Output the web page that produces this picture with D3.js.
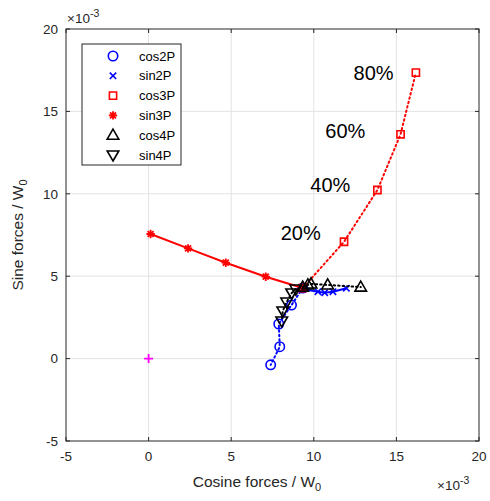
<!DOCTYPE html>
<html>
<head>
<meta charset="utf-8">
<script src="https://cdn.jsdelivr.net/npm/d3@7/dist/d3.min.js"></script>
<style>
  html, body { margin: 0; padding: 0; background: #ffffff; }
  svg { display: block; font-family: "Liberation Sans", Arial, Helvetica, sans-serif; }
</style>
</head>
<body>
<svg id="chart" width="490" height="501"></svg>
<script>
// Force components, in units of 1e-3 W0 (cosine part, sine part)
const cos2P_x = [9.33, 8.65, 7.88, 7.94, 7.39];
const cos2P_y = [4.28, 3.25, 2.10, 0.72, -0.38];
const sin2P_x = [9.33, 10.25, 10.66, 11.16, 11.97];
const sin2P_y = [4.22, 4.06, 4.00, 4.06, 4.27];
const cos3P_x = [9.33, 11.83, 13.85, 15.25, 16.18];
const cos3P_y = [4.28, 7.09, 10.23, 13.61, 17.35];
const sin3P_x = [0.12, 2.39, 4.67, 7.09, 9.33];
const sin3P_y = [7.56, 6.69, 5.82, 4.97, 4.28];
const cos4P_x = [9.33, 9.64, 9.83, 10.84, 12.84];
const cos4P_y = [4.34, 4.47, 4.53, 4.47, 4.34];
const sin4P_x = [8.91, 8.66, 8.36, 8.12, 8.06];
const sin4P_y = [4.22, 3.98, 3.43, 2.89, 2.28];
const origin = [0, 0];

// Load-level annotations (left edge / middle of text, in the same units)
const loadLabels = ["20%", "40%", "60%", "80%"];
const loadLabelX = [8.0, 9.79, 10.7, 12.41];
const loadLabelY = [7.62, 10.53, 13.83, 17.35];

// Axis ticks
const xTicks = [-5, 0, 5, 10, 15, 20];
const yTicks = [-5, 0, 5, 10, 15, 20];
const seriesNames = ["cos2P", "sin2P", "cos3P", "sin3P", "cos4P", "sin4P"];

const svg = d3.select("#chart");
const L = 66, R = 479, T = 29, B = 441;
const x = d3.scaleLinear().domain([-5, 20]).range([L, R]);
const y = d3.scaleLinear().domain([-5, 20]).range([B, T]);

const axisColor = "#262626";
const gridColor = "#e3e3e3";

// Grid
const grid = svg.append("g");
grid.selectAll("line.gx").data(xTicks.slice(1, -1)).join("line")
  .attr("x1", d => x(d)).attr("x2", d => x(d)).attr("y1", T).attr("y2", B)
  .attr("stroke", gridColor).attr("stroke-width", 1);
grid.selectAll("line.gy").data(yTicks.slice(1, -1)).join("line")
  .attr("y1", d => y(d)).attr("y2", d => y(d)).attr("x1", L).attr("x2", R)
  .attr("stroke", gridColor).attr("stroke-width", 1);

// Series definitions
const blue = "#0000ff", red = "#ff0000", black = "#000000";
const series = [
  { name: seriesNames[0], xs: cos2P_x, ys: cos2P_y, color: blue, dash: "1.5,3", marker: "circle" },
  { name: seriesNames[1], xs: sin2P_x, ys: sin2P_y, color: blue, dash: null, marker: "x" },
  { name: seriesNames[2], xs: cos3P_x, ys: cos3P_y, color: red, dash: "1.5,3", marker: "square" },
  { name: seriesNames[3], xs: sin3P_x, ys: sin3P_y, color: red, dash: null, marker: "star" },
  { name: seriesNames[4], xs: cos4P_x, ys: cos4P_y, color: black, dash: "1.5,3", marker: "triUp" },
  { name: seriesNames[5], xs: sin4P_x, ys: sin4P_y, color: black, dash: "1.5,3", marker: "triDown" }
];

function markerPath(type) {
  switch (type) {
    case "circle": return d3.symbol(d3.symbolCircle, Math.PI * 4.7 * 4.7)();
    case "square": return "M-3.6,-3.6H3.6V3.6H-3.6Z";
    case "x": return "M-3.2,-3.2L3.2,3.2M-3.2,3.2L3.2,-3.2";
    case "star": {
      let p = "";
      for (let i = 0; i < 4; i++) {
        const a = i * Math.PI / 4;
        const dx = 4.2 * Math.cos(a), dy = 4.2 * Math.sin(a);
        p += `M${-dx},${-dy}L${dx},${dy}`;
      }
      return p;
    }
    case "triUp": return "M0,-6L5.8,4L-5.8,4Z";
    case "triDown": return "M0,6L5.8,-4L-5.8,-4Z";
  }
}

const lineGen = d3.line().x(d => x(d[0])).y(d => y(d[1]));
const plot = svg.append("g");

series.forEach(s => {
  const pts = s.xs.map((v, i) => [v, s.ys[i]]);
  const g = plot.append("g");
  g.append("path").datum(pts)
    .attr("d", lineGen)
    .attr("fill", "none")
    .attr("stroke", s.color)
    .attr("stroke-width", 2)
    .attr("stroke-dasharray", s.dash)
    .attr("stroke-linecap", s.dash ? "round" : "butt");
  g.selectAll("path.m").data(pts).join("path")
    .attr("class", "m")
    .attr("transform", d => `translate(${x(d[0])},${y(d[1])})`)
    .attr("d", markerPath(s.marker))
    .attr("fill", "none")
    .attr("stroke", s.color)
    .attr("stroke-width", s.marker === "star" ? 1.8 : 1.6);
});

// Origin reference
plot.append("path")
  .attr("transform", `translate(${x(origin[0])},${y(origin[1])})`)
  .attr("d", "M-4.5,0H4.5M0,-4.5V4.5")
  .attr("stroke", "#ff00ff").attr("stroke-width", 1.8).attr("fill", "none");

// Load-level text
svg.selectAll("text.load").data(loadLabels).join("text")
  .attr("x", (d, i) => x(loadLabelX[i]))
  .attr("y", (d, i) => y(loadLabelY[i]))
  .attr("dy", "0.36em")
  .attr("font-size", 20)
  .attr("fill", "#000")
  .text(d => d);

// Axes frame
svg.append("rect").attr("x", L).attr("y", T).attr("width", R - L).attr("height", B - T)
  .attr("fill", "none").attr("stroke", axisColor).attr("stroke-width", 1);

const tickLen = 4;
const axes = svg.append("g").attr("stroke", axisColor).attr("stroke-width", 1);
xTicks.forEach(t => {
  axes.append("line").attr("x1", x(t)).attr("x2", x(t)).attr("y1", B).attr("y2", B - tickLen);
  axes.append("line").attr("x1", x(t)).attr("x2", x(t)).attr("y1", T).attr("y2", T + tickLen);
});
yTicks.forEach(t => {
  axes.append("line").attr("y1", y(t)).attr("y2", y(t)).attr("x1", L).attr("x2", L + tickLen);
  axes.append("line").attr("y1", y(t)).attr("y2", y(t)).attr("x1", R).attr("x2", R - tickLen);
});

svg.selectAll("text.xt").data(xTicks).join("text")
  .attr("x", d => x(d)).attr("y", B + 20)
  .attr("text-anchor", "middle").attr("font-size", 13.5).attr("fill", axisColor)
  .text(d => d);
svg.selectAll("text.yt").data(yTicks).join("text")
  .attr("x", L - 8).attr("y", d => y(d)).attr("dy", "0.36em")
  .attr("text-anchor", "end").attr("font-size", 13.5).attr("fill", axisColor)
  .text(d => d);

// Exponent multipliers
function multiplier(xpos, ypos) {
  const t = svg.append("text").attr("x", xpos).attr("y", ypos)
    .attr("font-size", 13.5).attr("fill", axisColor);
  t.append("tspan").text("\u00d710");
  t.append("tspan").attr("dy", -6).attr("font-size", 10.5).text("-3");
}
multiplier(L + 1, T - 6);
multiplier(R - 42, B + 49);

// Axis titles
const xTitle = svg.append("text").attr("x", 257).attr("y", B + 46)
  .attr("text-anchor", "middle").attr("font-size", 15.5).attr("fill", axisColor);
xTitle.append("tspan").text("Cosine forces / W");
xTitle.append("tspan").attr("dy", 4).attr("font-size", 11).text("0");

const yTitle = svg.append("text")
  .attr("transform", `translate(${L - 43},${(T + B) / 2}) rotate(-90)`)
  .attr("text-anchor", "middle").attr("font-size", 15.5).attr("fill", axisColor);
yTitle.append("tspan").text("Sine forces / W");
yTitle.append("tspan").attr("dy", 4).attr("font-size", 11).text("0");

// Legend
const lg = svg.append("g").attr("transform", "translate(82,44)");
lg.append("rect").attr("width", 99).attr("height", 121)
  .attr("fill", "#fff").attr("stroke", axisColor).attr("stroke-width", 1);
series.forEach((s, i) => {
  const row = lg.append("g").attr("transform", `translate(0,${12 + i * 19.8})`);
  row.append("path").attr("transform", "translate(31,0)")
    .attr("d", markerPath(s.marker))
    .attr("fill", "none").attr("stroke", s.color)
    .attr("stroke-width", s.marker === "star" ? 1.8 : 1.6);
  row.append("text").attr("x", 57).attr("dy", "0.36em")
    .attr("font-size", 13).attr("fill", "#000").text(s.name);
});
</script>
</body>
</html>
